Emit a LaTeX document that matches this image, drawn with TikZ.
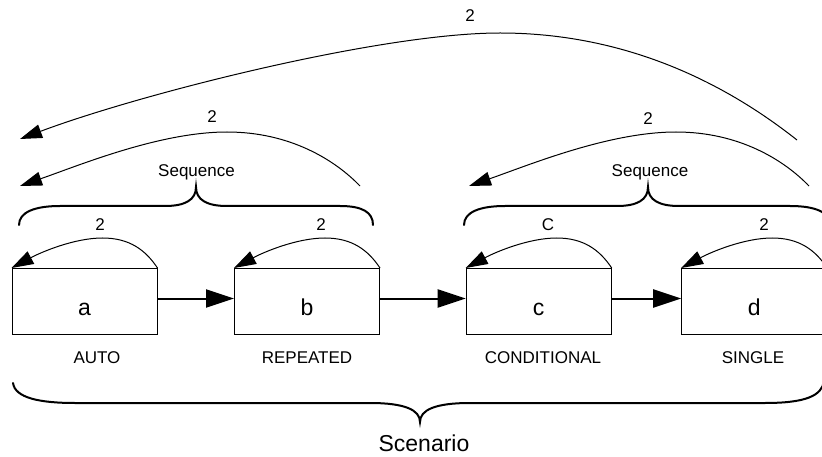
\documentclass[tikz,border=0pt]{standalone}
\usepackage{fontspec}
\setmainfont{Liberation Sans}
\usetikzlibrary{arrows.meta,calc}
\begin{document}
\begin{tikzpicture}[x=1pt,y=-1pt,
  box/.style={draw,line width=1pt,minimum width=145pt,minimum height=66pt,inner sep=0pt,
    text height=30pt,text depth=2pt,font=\fontsize{23}{27}\selectfont},
  smalltxt/.style={font=\fontsize{17}{20}\selectfont,inner sep=0pt,anchor=base},
  bigtxt/.style={font=\fontsize{23}{27}\selectfont,inner sep=0pt,anchor=base},
  flow/.style={line width=2pt,-{Triangle[length=28pt,width=18pt]}},
  loopline/.style={line width=1pt,-{Triangle[length=22pt,width=14pt]}},
  bracepath/.style={line width=2pt,line cap=round}]
\useasboundingbox (0,0) rectangle (822,457);
\clip (0,0) rectangle (822,457);

% boxes
\node[box] (a) at (84.5,301.5) {a};
\node[box] (b) at (307,301.5) {b};
\node[box] (c) at (538.7,301.5) {c};
\node[box] (d) at (754.2,301.5) {d};

% type labels
\node[smalltxt] (la) at (97,363) {AUTO};
\node[smalltxt] (lb) at (307,363) {REPEATED};
\node[smalltxt] (lc) at (543,363) {CONDITIONAL};
\node[smalltxt] (ld) at (753,363) {SINGLE};

% flow arrows
\draw[flow] ([yshift=3pt]a.east) -- ([yshift=3pt]b.west);
\draw[flow] ([yshift=3pt]b.east) -- ([yshift=3pt]c.west);
\draw[flow] ([yshift=3pt]c.east) -- ([yshift=3pt]d.west);

% self loops
\foreach \n in {a,b,c,d}{
  \coordinate (p\n) at ($(\n.north west)+(91,-30)$);
  \draw[loopline] (\n.north east) .. controls +(-12,-18) and +(27,0) .. (p\n)
     .. controls +(-28,0) and +(30,-16) .. (\n.north west);
}
\node[smalltxt] (ta) at (100,230) {2};
\node[smalltxt] (tb) at (321,230) {2};
\node[smalltxt] (tc) at (548,230) {C};
\node[smalltxt] (td) at (764,230) {2};

% sequence braces
\draw[bracepath] (19,225) .. controls (19,212) and (35,206) .. (60,206) -- (165,206)
  .. controls (185,206) and (196,200) .. (196,187)
  .. controls (196,200) and (207,206) .. (227,206) -- (340,206)
  .. controls (362,206) and (373,212) .. (373,225);
\node[smalltxt] (seq1) at (196.5,177) {Sequence};
\draw[bracepath] (464,225) .. controls (464,212) and (480,206) .. (505,206) -- (617,206)
  .. controls (637,206) and (648,200) .. (648,187)
  .. controls (648,200) and (659,206) .. (679,206) -- (790,206)
  .. controls (815,206) and (830,212) .. (830,225);
\node[smalltxt] (seq2) at (650,177) {Sequence};

% scenario brace
\draw[bracepath] (13,383) .. controls (15,398) and (40,403) .. (75,403) -- (370,403)
  .. controls (405,403) and (420,410) .. (420,422)
  .. controls (420,410) and (435,403) .. (470,403) -- (765,403)
  .. controls (805,403) and (822,396) .. (824,381);
\node[bigtxt] (scen) at (424,451) {Scenario};

% sequence loops
\coordinate (s1start) at (360,186);
\coordinate (s1peak) at (227,132);
\coordinate (s1end) at (20,186);
\draw[loopline] (s1start) .. controls +(-25,-26) and +(63,0) .. (s1peak)
  .. controls +(-67,0) and +(60,-21) .. (s1end);
\node[smalltxt] (t1) at (212,123) {2};

\coordinate (s2start) at (809,186);
\coordinate (s2peak) at (676,132);
\coordinate (s2end) at (469,186);
\draw[loopline] (s2start) .. controls +(-25,-26) and +(63,0) .. (s2peak)
  .. controls +(-67,0) and +(60,-21) .. (s2end);
\node[smalltxt] (t2) at (648,125) {2};

% scenario loop
\coordinate (s3start) at (797,140);
\coordinate (s3peak) at (500,33);
\coordinate (s3end) at (20,139);
\draw[loopline] (s3start) .. controls +(-57,-45) and +(140,0) .. (s3peak)
  .. controls +(-120,0) and +(120,-45) .. (s3end);
\node[smalltxt] (t3) at (470,22) {2};
\end{tikzpicture}
\end{document}
